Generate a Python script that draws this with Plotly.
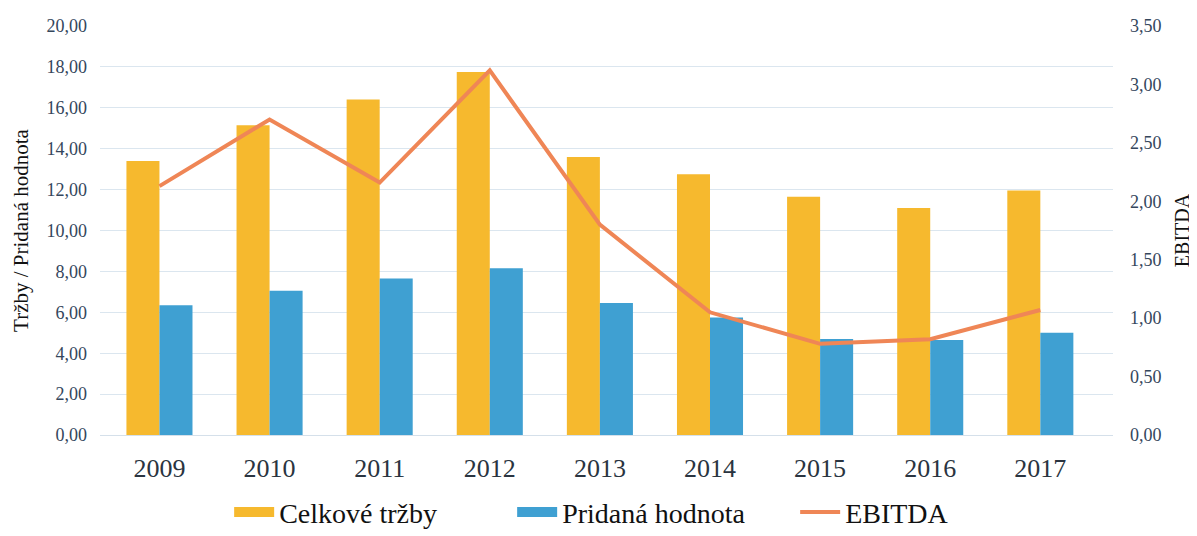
import plotly.graph_objects as go

years = ["2009", "2010", "2011", "2012", "2013", "2014", "2015", "2016", "2017"]
trzby = [13.40, 15.15, 16.40, 17.75, 13.60, 12.75, 11.65, 11.10, 11.95]
pridana = [6.35, 7.05, 7.65, 8.15, 6.45, 5.75, 4.70, 4.65, 5.00]
ebitda = [2.13, 2.70, 2.16, 3.12, 1.80, 1.05, 0.78, 0.82, 1.07]

left_ticks = [0, 2, 4, 6, 8, 10, 12, 14, 16, 18, 20]
right_ticks = [0, 0.5, 1, 1.5, 2, 2.5, 3, 3.5]

serif = "Liberation Serif"
c_gold = "#F6B92E"
c_blue = "#3FA0D2"
c_orange = "#EF8656"

fig = go.Figure()
fig.add_trace(go.Bar(x=years, y=trzby, name="Celkové tržby", legendgroup="t",
                     showlegend=False, marker=dict(color=c_gold, line=dict(width=0))))
fig.add_trace(go.Bar(x=years, y=pridana, name="Pridaná hodnota", legendgroup="p",
                     showlegend=False, marker=dict(color=c_blue, line=dict(width=0))))
fig.add_trace(go.Scatter(x=years, y=ebitda, name="EBITDA", mode="lines",
                         line=dict(color=c_orange, width=4), yaxis="y2", showlegend=False,
                         legendgroup="e"))
# legend entries (wide swatches like the original)
fig.add_trace(go.Scatter(x=[None], y=[None], name="Celkové tržby", mode="lines",
                         legendgroup="t", line=dict(color=c_gold, width=14)))
fig.add_trace(go.Scatter(x=[None], y=[None], name="Pridaná hodnota", mode="lines",
                         legendgroup="p", line=dict(color=c_blue, width=14)))
fig.add_trace(go.Scatter(x=[None], y=[None], name="EBITDA", mode="lines",
                         legendgroup="e", line=dict(color=c_orange, width=4)))

fig.update_layout(
    width=1189, height=528,
    margin=dict(l=92, r=84, t=18, b=101, autoexpand=False),
    paper_bgcolor="white", plot_bgcolor="white",
    separators=", ",
    barmode="group", bargap=0.4, bargroupgap=0,
    font=dict(family=serif, color="#2b3b4c"),
    showlegend=True,
    legend=dict(orientation="h", x=0.186, xanchor="left", xref="container",
                y=0.045, yanchor="middle", yref="container",
                font=dict(size=28, color="#111111", family=serif),
                itemwidth=40, entrywidth=228, entrywidthmode="pixels",
                traceorder="normal", tracegroupgap=0),
    xaxis=dict(type="category", range=[-0.54, 8.66], showgrid=False, showline=True,
               linecolor="#d5e0ea", linewidth=1, ticks="", automargin=False,
               ticklabelstandoff=10,
               tickfont=dict(size=26, color="#2a3440", family=serif)),
    yaxis=dict(range=[0, 20], tickvals=left_ticks, tickformat=".2f",
               showgrid=True, gridcolor="#dbe6ef", gridwidth=1, automargin=False,
               zeroline=False, ticks="", ticklabelstandoff=12,
               tickfont=dict(size=18, color="#34465c", family=serif),
               title=dict(text="Tržby / Pridaná hodnota",
                          font=dict(size=21, color="#111111", family=serif), standoff=12)),
    yaxis2=dict(range=[0, 3.5], tickvals=right_ticks, tickformat=".2f",
                overlaying="y", side="right", showgrid=False, zeroline=False,
                ticks="", ticklabelstandoff=16, automargin=False,
                tickfont=dict(size=18, color="#34465c", family=serif),
                title=dict(text="EBITDA", font=dict(size=20, color="#111111", family=serif),
                           standoff=14)),
)

fig.write_html("out.html")
